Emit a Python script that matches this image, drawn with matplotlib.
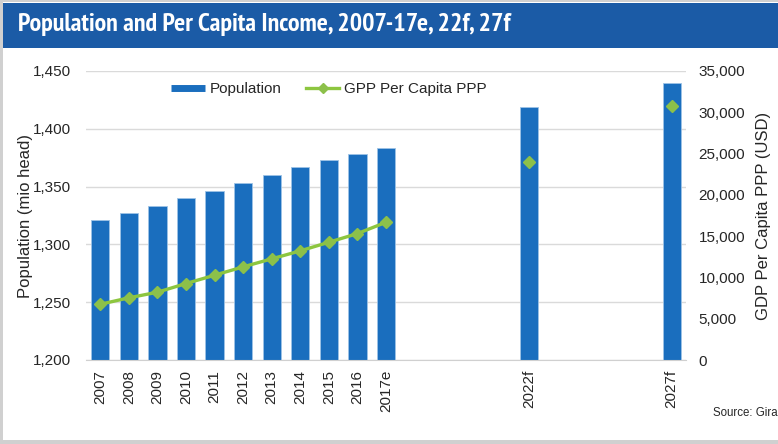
import numpy as np
import matplotlib
matplotlib.use("Agg")
import matplotlib.pyplot as plt
from matplotlib.patches import Rectangle
from matplotlib.lines import Line2D
from matplotlib.ticker import FuncFormatter
from matplotlib import font_manager as fm

# ---- data ----
years = [str(y) for y in range(2007, 2017)] + ["2017e", "2018", "2019", "2020", "2021",
                                                 "2022f", "2023", "2024", "2025", "2026", "2027f"]
shown_labels = [str(y) for y in range(2007, 2017)] + ["2017e", "", "", "", "", "2022f",
                                                        "", "", "", "", "2027f"]
population = [1321, 1327, 1333, 1340, 1346, 1353, 1360, 1367, 1373, 1378, 1383,
              np.nan, np.nan, np.nan, np.nan, 1419, np.nan, np.nan, np.nan, np.nan, 1440]
gdp_pc = [6750, 7530, 8210, 9260, 10270, 11280, 12250, 13220, 14260, 15310, 16680,
          np.nan, np.nan, np.nan, np.nan, 23950, np.nan, np.nan, np.nan, np.nan, 30730]

BLUE = "#1A6EBE"
GREEN = "#8DC63F"
TXT = "#262626"
FAM = ["Liberation Sans", "DejaVu Sans"]

# condensed title font if available
title_prop = None
for f in fm.fontManager.ttflist:
    if "Narrow" in f.name and f.weight in ("bold", 700) and "Italic" not in f.fname:
        title_prop = fm.FontProperties(fname=f.fname, size=18.7)
        break
if title_prop is None:
    title_prop = fm.FontProperties(family=FAM, weight="bold", size=16.5)

fig = plt.figure(figsize=(7.78, 4.44), dpi=100)
fig.patch.set_facecolor("white")

# frame and banner
fig.patches.append(Rectangle((0, 4/444), 3/778, 440/444, transform=fig.transFigure,
                             facecolor="#D0D0D0", edgecolor="none", zorder=0))
fig.patches.append(Rectangle((0, 0), 1, 4/444, transform=fig.transFigure,
                             facecolor="#D0D0D0", edgecolor="none", zorder=0))
fig.patches.append(Rectangle((0, 1 - 2/444), 1, 2/444, transform=fig.transFigure,
                             facecolor="#D0D0D0", edgecolor="none", zorder=0))
fig.patches.append(Rectangle((3/778, 1 - 48/444), 775/778, 45/444, transform=fig.transFigure,
                             facecolor="#1B5BA6", edgecolor="none", zorder=1))
fig.text(18/778, 1 - 25/444, "Population and Per Capita Income, 2007-17e, 22f, 27f",
         color="white", va="center", ha="left", fontproperties=title_prop)

ax = fig.add_axes([86/778, 1 - 360/444, 600/778, 289/444])
x = np.arange(len(years))
ax.bar(x, np.nan_to_num(np.array(population, dtype=float)), width=0.64, color=BLUE,
       edgecolor="#9DC3E6", linewidth=0.6, zorder=2, label="Population")
ax.set_ylim(1200, 1450)
ax.set_xlim(-0.5, len(years) - 0.5)
ax.set_yticks([1200, 1250, 1300, 1350, 1400, 1450])
ax.yaxis.set_major_formatter(FuncFormatter(lambda v, p: f"{int(v):,}"))
ax.grid(axis="y", color="#DADADA", linewidth=1, zorder=0)
ax.set_axisbelow(True)
for s in ["top", "right", "left"]:
    ax.spines[s].set_visible(False)
ax.spines["bottom"].set_color("#D0D0D0")
ax.set_xticks(x)
ax.set_xticklabels(shown_labels, rotation=90, fontsize=11, color=TXT, family=FAM)
ax.tick_params(axis="x", length=0, pad=7)
ax.tick_params(axis="y", length=0, pad=11, labelsize=11, labelcolor=TXT)
for t in ax.get_yticklabels():
    t.set_family(FAM)
ax.set_ylabel("Population (mio head)", fontsize=12, color=TXT, labelpad=0, family=FAM)

ax2 = ax.twinx()
ax2.plot(x, gdp_pc, color=GREEN, linewidth=2.4, marker="D", markersize=6,
         markerfacecolor="#8CC04A", markeredgecolor="#8CC04A", zorder=3)
ax2.set_ylim(0, 35000)
ax2.set_yticks(np.arange(0, 35001, 5000))
ax2.yaxis.set_major_formatter(FuncFormatter(lambda v, p: f"{int(v):,}"))
for s in ["top", "right", "left", "bottom"]:
    ax2.spines[s].set_visible(False)
ax2.tick_params(axis="y", length=0, pad=9, labelsize=11, labelcolor=TXT)
for t in ax2.get_yticklabels():
    t.set_family(FAM)
ax2.set_ylabel("GDP Per Capita PPP (USD)", fontsize=12, color=TXT, labelpad=8, family=FAM)

handles = [Line2D([], [], color=BLUE, linewidth=5, solid_capstyle="butt"),
           Line2D([], [], color=GREEN, linewidth=2.4, marker="D", markersize=5,
                  markerfacecolor="#8CC04A", markeredgecolor="#8CC04A")]
leg = fig.legend(handles, ["Population", "GPP Per Capita PPP"],
                 loc="center", bbox_to_anchor=(329/778, 1 - 89/444), ncol=2, frameon=False,
                 handlelength=2.2, columnspacing=1.6, handletextpad=0.3,
                 prop={"family": FAM, "size": 11})
for t in leg.get_texts():
    t.set_color(TXT)

fig.text(713/778, 1 - 413/444, "Source: Gira", fontsize=8.3, color=TXT,
         va="center", ha="left", family=FAM)

fig.savefig("out.png", dpi=100, facecolor="white")
